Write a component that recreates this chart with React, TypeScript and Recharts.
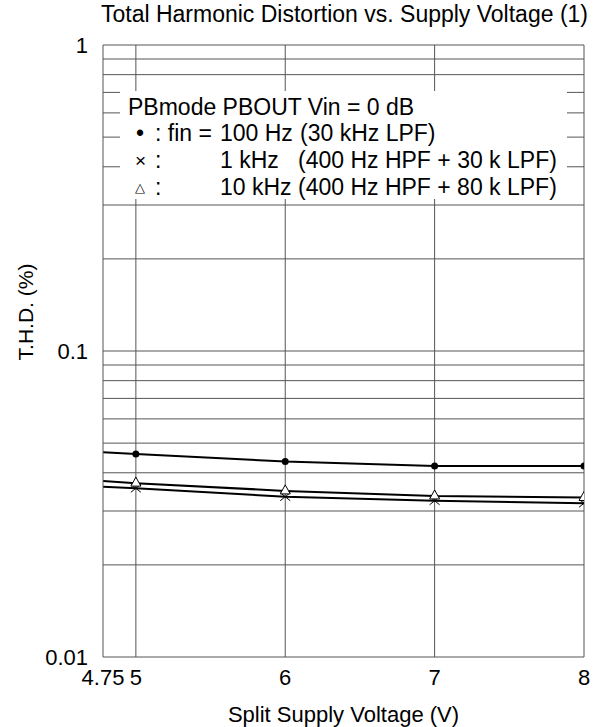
import React from 'react';
import { LineChart, Line, XAxis, YAxis, ReferenceLine, Label } from 'recharts';

const VOLTS = [4.78, 5, 6, 7, 8];
const X_TICKS = [4.78, 5, 6, 7, 8];
const X_TICK_LABELS = ['4.75', '5', '6', '7', '8'];
const Y_TICKS = [0.01, 0.1, 1];
const Y_TICK_LABELS = ['0.01', '0.1', '1'];
const THD_100HZ = [0.0467, 0.0461, 0.0435, 0.0421, 0.0421];
const THD_1KHZ = [0.036, 0.0356, 0.0334, 0.0324, 0.0318];
const THD_10KHZ = [0.0376, 0.037, 0.0349, 0.0336, 0.0332];

// log grid
const H_GRID = [
  0.02, 0.03, 0.04, 0.05, 0.06, 0.07, 0.08, 0.09, 0.1,
  0.2, 0.3, 0.4, 0.5, 0.6, 0.7, 0.8, 0.9, 1,
];
const V_GRID = [5, 6, 7, 8];

const data = VOLTS.map((v, i) => ({
  v,
  f100: THD_100HZ[i],
  f1k: THD_1KHZ[i],
  f10k: THD_10KHZ[i],
}));

const FONT = '"Liberation Sans", Arial, sans-serif';
const GRID = '#555';

// first point sits on the frame edge and has no marker
const DotMark = (props: any) => {
  const { cx, cy, index } = props;
  if (index === 0) return <g key={`d-${index}`} />;
  return <circle key={`d-${index}`} cx={cx} cy={cy} r={3.5} fill="#000" />;
};

const CrossMark = (props: any) => {
  const { cx, cy, index } = props;
  if (index === 0) return <g key={`x-${index}`} />;
  return (
    <g key={`x-${index}`} stroke="#000" strokeWidth={1}>
      <line x1={cx - 5} y1={cy - 4} x2={cx + 5} y2={cy + 4} />
      <line x1={cx - 5} y1={cy + 4} x2={cx + 5} y2={cy - 4} />
    </g>
  );
};

const TriMark = (props: any) => {
  const { cx, cy, index } = props;
  if (index === 0) return <g key={`t-${index}`} />;
  return (
    <polygon
      key={`t-${index}`}
      points={`${cx},${cy - 6} ${cx - 5},${cy + 3} ${cx + 5},${cy + 3}`}
      fill="#fff"
      stroke="#000"
      strokeWidth={1}
    />
  );
};

const YLabel = (props: any) => {
  const { viewBox } = props;
  const cx = viewBox.x + 25;
  const cy = viewBox.y + viewBox.height / 2 - 39;
  return (
    <text
      x={cx}
      y={cy}
      transform={`rotate(-90 ${cx} ${cy})`}
      textAnchor="middle"
      dominantBaseline="central"
      fontSize={21}
      fontFamily={FONT}
      fill="#000"
    >
      T.H.D. (%)
    </text>
  );
};

const abs = (left: number, top: number, extra: React.CSSProperties = {}): React.CSSProperties => ({
  position: 'absolute',
  left,
  top,
  whiteSpace: 'pre',
  lineHeight: '26px',
  ...extra,
});

export default function App() {
  return (
    <div style={{ position: 'absolute', left: 0, top: 0, width: 596, height: 727, background: '#fff', fontFamily: FONT }}>
      <div style={{ position: 'absolute', top: 1, right: 8, fontSize: 23, lineHeight: '26px', color: '#000', whiteSpace: 'pre' }}>
        Total Harmonic Distortion vs. Supply Voltage (1)
      </div>

      <LineChart width={596} height={727} data={data} margin={{ top: 45, right: 12, bottom: 0, left: 0 }}>
        <XAxis
          dataKey="v"
          type="number"
          domain={[4.78, 8]}
          ticks={X_TICKS}
          tickFormatter={(t: number) => X_TICK_LABELS[X_TICKS.indexOf(t)]}
          height={70}
          tickLine={false}
          tickSize={0}
          tickMargin={12}
          axisLine={{ stroke: GRID }}
          tick={{ fill: '#000', fontSize: 22, fontFamily: FONT }}
          allowDataOverflow
        >
          <Label value="Split Supply Voltage (V)" position="insideBottom" offset={5} fill="#000" fontSize={22} fontFamily={FONT} />
        </XAxis>
        <YAxis
          type="number"
          scale="log"
          domain={[0.01, 1]}
          ticks={Y_TICKS}
          tickFormatter={(t: number) => Y_TICK_LABELS[Y_TICKS.indexOf(t)]}
          width={103}
          tickLine={false}
          tickSize={0}
          tickMargin={15}
          axisLine={{ stroke: GRID }}
          tick={{ fill: '#000', fontSize: 22, fontFamily: FONT }}
          allowDataOverflow
        >
          <Label content={<YLabel />} />
        </YAxis>

        {H_GRID.map((g) => (
          <ReferenceLine key={`h-${g}`} y={g} stroke={GRID} strokeWidth={1} />
        ))}
        {V_GRID.map((g) => (
          <ReferenceLine key={`v-${g}`} x={g} stroke={GRID} strokeWidth={1} />
        ))}

        <Line dataKey="f100" stroke="#000" strokeWidth={2} dot={DotMark} isAnimationActive={false} />
        <Line dataKey="f1k" stroke="#000" strokeWidth={2} dot={CrossMark} isAnimationActive={false} />
        <Line dataKey="f10k" stroke="#000" strokeWidth={2} dot={TriMark} isAnimationActive={false} />
      </LineChart>

      {/* legend box, white so the grid is hidden behind it */}
      <div
        style={{
          position: 'absolute',
          left: 120,
          top: 91,
          width: 447,
          height: 108,
          background: '#fff',
          fontSize: 23,
          color: '#000',
        }}
      >
        <div style={abs(8, 3)}>PBmode PBOUT Vin = 0 dB</div>

        <div style={abs(16, 29)}>•</div>
        <div style={abs(35, 29)}>: fin =</div>
        <div style={abs(100, 29)}>100 Hz</div>
        <div style={abs(180, 29)}>(30 kHz LPF)</div>

        <div style={abs(15, 57, { fontSize: 19 })}>×</div>
        <div style={abs(35, 56)}>:</div>
        <div style={abs(100, 56)}>1 kHz</div>
        <div style={abs(178, 56)}>(400 Hz HPF + 30 k LPF)</div>

        <div style={abs(15, 84, { fontSize: 13 })}>△</div>
        <div style={abs(35, 83)}>:</div>
        <div style={abs(100, 83)}>10 kHz (400 Hz HPF + 80 k LPF)</div>
      </div>
    </div>
  );
}
